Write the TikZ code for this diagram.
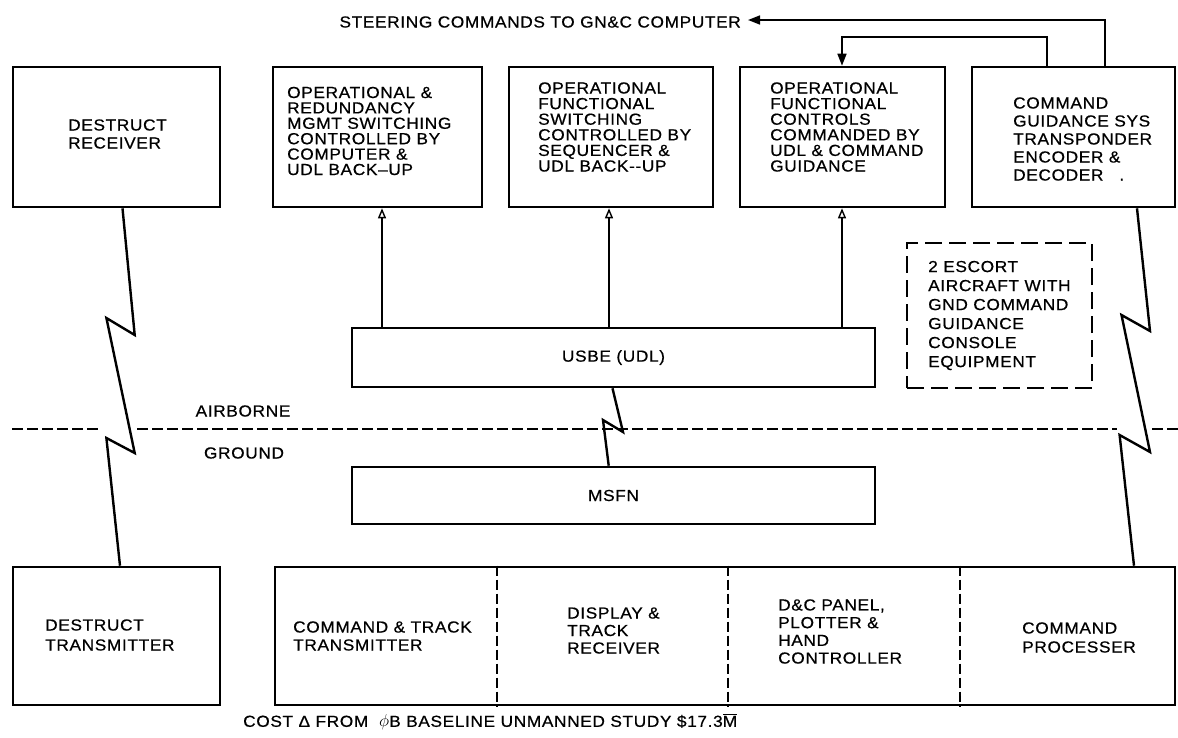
\documentclass[tikz,border=0pt]{standalone}
\usepackage{fontspec}
\setmainfont{Liberation Sans}[LetterSpace=4, FakeStretch=1.08, FakeBold=0.6]
\usetikzlibrary{arrows.meta}
\begin{document}
\begin{tikzpicture}[x=1pt,y=-1pt,
  box/.style={draw, line width=2.6pt, inner sep=0pt},
  dbox/.style={draw, line width=2.6pt, inner sep=0pt, dash pattern=on 17pt off 7pt},
  txt/.style={font=\fontsize{16}{#1}\selectfont, align=left, anchor=west, inner sep=0pt},
  txt/.default=17,
  ctxt/.style={font=\fontsize{16}{17}\selectfont, inner sep=0pt},
  conn/.style={line width=1.6pt},
  uparrow/.style={conn, -{Triangle[open, width=8pt, length=10pt, line width=1.4pt]}},
  fillarrow/.style={conn, -{Triangle[width=9pt, length=12pt]}},
  bolt/.style={line width=2.4pt, line join=miter, miter limit=20},
  bound/.style={line width=2.8pt, dash pattern=on 11pt off 4pt},
  divider/.style={line width=1.4pt, dash pattern=on 10pt off 4pt}]
\useasboundingbox (0,0) rectangle (1178,737);

% top row boxes
\node[box, minimum width=207pt, minimum height=140pt] (rx) at (116.5,137) {};
\node[box, minimum width=209pt, minimum height=140pt] (b2) at (377.5,137) {};
\node[box, minimum width=204pt, minimum height=140pt] (b3) at (611,137) {};
\node[box, minimum width=205pt, minimum height=140pt] (b4) at (842.5,137) {};
\node[box, minimum width=203pt, minimum height=140pt] (b5) at (1073.5,137) {};

\node[txt=18] (trx) at (68,134) {DESTRUCT\\RECEIVER};
\node[txt=15.4] (t2) at (287,131) {OPERATIONAL \&\\REDUNDANCY\\MGMT SWITCHING\\CONTROLLED BY\\COMPUTER \&\\UDL BACK--UP};
\node[txt=15.6] (t3) at (538,127) {OPERATIONAL\\FUNCTIONAL\\SWITCHING\\CONTROLLED BY\\SEQUENCER \&\\UDL BACK-{}-UP};
\node[txt=15.6] (t4) at (770,127) {OPERATIONAL\\FUNCTIONAL\\CONTROLS\\COMMANDED BY\\UDL \& COMMAND\\GUIDANCE};
\node[txt=18] (t5) at (1013,139) {COMMAND\\GUIDANCE SYS\\TRANSPONDER\\ENCODER \&\\DECODER\quad .};

% middle boxes
\node[box, minimum width=523pt, minimum height=59pt, ctxt] (usbe) at (613.5,357.5) {USBE (UDL)};
\node[box, minimum width=523pt, minimum height=57pt, ctxt] (msfn) at (613.5,495.5) {MSFN};
\node[dbox, minimum width=185pt, minimum height=145pt] (esc) at (999.5,315.5) {};
\node[txt=19] (tesc) at (928,315.5) {2 ESCORT\\AIRCRAFT WITH\\GND COMMAND\\GUIDANCE\\CONSOLE\\EQUIPMENT};

% bottom boxes
\node[box, minimum width=207pt, minimum height=138pt] (tx) at (116.5,636) {};
\node[box, minimum width=900pt, minimum height=138pt] (gnd) at (725,636) {};
\node[txt=20] (ttx) at (45,635) {DESTRUCT\\TRANSMITTER};
\node[txt=18] (tct) at (293,636) {COMMAND \& TRACK\\TRANSMITTER};
\node[txt=17.5] (tdt) at (567,630.5) {DISPLAY \&\\TRACK\\RECEIVER};
\node[txt=17.7] (tdc) at (778,631.5) {D\&C PANEL,\\PLOTTER \&\\HAND\\CONTROLLER};
\node[txt=19] (tcp) at (1022,637.5) {COMMAND\\PROCESSER};

\coordinate (d1) at (497,0);
\coordinate (d2) at (728,0);
\coordinate (d3) at (960,0);
\draw[divider] (gnd.north -| d1) -- (gnd.south -| d1);
\draw[divider] (gnd.north -| d2) -- (gnd.south -| d2);
\draw[divider] (gnd.north -| d3) -- (gnd.south -| d3);

% labels
\node[ctxt] (air) at (243,411) {AIRBORNE};
\node[ctxt] (grd) at (244,453) {GROUND};
\node[ctxt, anchor=east] (steer) at (741,22) {STEERING COMMANDS TO GN\&C COMPUTER};
\node[ctxt, anchor=west] (cost) at (243,722) {COST Δ FROM\ \ $\phi$B BASELINE UNMANNED STUDY \$17.3$\overline{\mbox{M}}$};

% airborne / ground boundary
\draw[bound] (12,429) -- (101,429);
\draw[bound] (137,429) -- (1117,429);
\draw[bound] (1152,429) -- (1178,429);

% USBE to switching boxes
\coordinate (a2) at (382,0);
\coordinate (a3) at (609,0);
\coordinate (a4) at (842,0);
\draw[uparrow] (usbe.north -| a2) -- (b2.south -| a2);
\draw[uparrow] (usbe.north -| a3) -- (b3.south -| a3);
\draw[uparrow] (usbe.north -| a4) -- (b4.south -| a4);

% steering commands and command guidance routes
\coordinate (s1) at (1105,20);
\coordinate (s1end) at (748,20);
\draw[fillarrow] (b5.north -| s1) -- (s1) -- (s1end);
\coordinate (s2) at (1047,37);
\coordinate (k) at (842,37);
\draw[fillarrow] (b5.north -| s2) -- (s2) -- (k) -- (b4.north -| k);

% radio links
\coordinate (L1) at (122.5,0);
\coordinate (L6) at (120,0);
\draw[bolt] (rx.south -| L1) -- (134.7,335) -- (106.4,318) -- (134.7,453) -- (106.4,438) -- (tx.north -| L6);
\coordinate (R1) at (1137,0);
\coordinate (R6) at (1134,0);
\draw[bolt] (b5.south -| R1) -- (1150,331) -- (1121.5,315) -- (1150,452) -- (1119.6,435) -- (gnd.north -| R6);
\coordinate (M1) at (612.5,0);
\coordinate (M4) at (608.7,0);
\draw[bolt] (usbe.south -| M1) -- (623,432) -- (603,420) -- (msfn.north -| M4);
\end{tikzpicture}
\end{document}
